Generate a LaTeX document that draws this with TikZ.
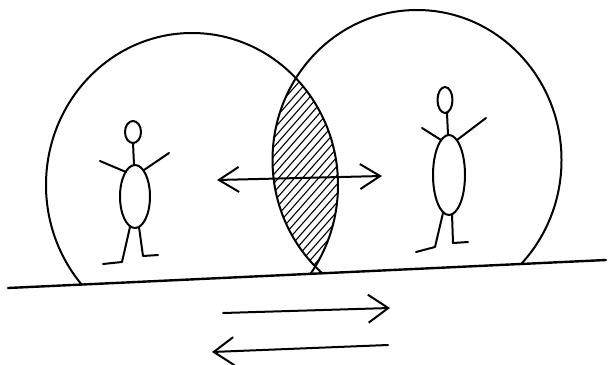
\documentclass[tikz,border=0pt]{standalone}
\usepackage{tikz}
\usetikzlibrary{arrows.meta}

\tikzset{
  pen/.style={line width=2pt, line cap=round, line join=round},
  hatch/.style={line width=1.1pt},
  wide head/.style={>={Straight Barb[length=20pt, width=28pt]}}
}

\begin{document}
\begin{tikzpicture}[x=1pt, y=-1pt, >={Straight Barb[length=20pt, width=25pt]}]
	\useasboundingbox (0,0) rectangle (610,364);

	%ground
	\coordinate (ground-l) at (8,288);
	\coordinate (ground-r) at (606,260);
	\draw [pen, line width=2.4pt] (ground-l) -- (ground-r);

	%domes
	\begin{scope}
	  \clip (0,0) -- (610,0) -- (610,259.8) -- (0,288.4) -- cycle;
	  \draw [pen] (192,185) ellipse [x radius=146, y radius=152];
	  \draw [pen] (417,160) ellipse [x radius=144.5, y radius=150];
	\end{scope}

	%overlap
	\begin{scope}
	  \clip (192,185) ellipse [x radius=146, y radius=152];
	  \clip (417,160) ellipse [x radius=144.5, y radius=150];
	  \foreach \k in {60,68,...,340}
	    \draw [hatch] (\k,290) -- ++(220,-250);
	\end{scope}

	%left man
	\draw [pen] (133,132) ellipse [x radius=8, y radius=11];
	\draw [pen] (133,143) -- (134,165);
	\draw [pen] (135,196.5) ellipse [x radius=15, y radius=31.5];
	\draw [pen] (100,161) -- (126,172);
	\draw [pen] (144,170) -- (169,153);
	\draw [pen] (130,227) -- (122,262) -- (103,264);
	\draw [pen] (139,227) -- (143,256) -- (158,255);

	%right man
	\draw [pen] (445,100) ellipse [x radius=7.5, y radius=13];
	\draw [pen] (447,113) -- (448,135);
	\draw [pen] (449,175) ellipse [x radius=16, y radius=40];
	\draw [pen] (422,128) -- (441,140);
	\draw [pen] (457,140) -- (486,118);
	\draw [pen] (443,213) -- (435,247) -- (416,252);
	\draw [pen] (452,214) -- (453,243) -- (468,242);

	%arrows
	\coordinate (pull-l) at (217,180);
	\coordinate (pull-r) at (382,176);
	\draw [pen, <->] (pull-l) -- (pull-r);

	\coordinate (go-a) at (223,313);
	\coordinate (go-b) at (390,308);
	\draw [pen, wide head, ->] (go-a) -- (go-b);

	\coordinate (back-a) at (388,345);
	\coordinate (back-b) at (212,352);
	\draw [pen, wide head, ->] (back-a) -- (back-b);
\end{tikzpicture}
\end{document}
